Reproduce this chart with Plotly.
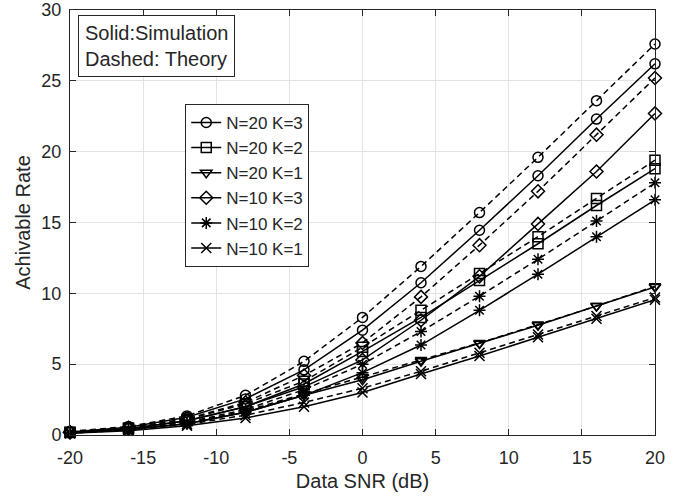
import plotly.graph_objects as go

snr = [-20, -16, -12, -8, -4, 0, 4, 8, 12, 16, 20]

names = ['N=20 K=3', 'N=20 K=2', 'N=20 K=1', 'N=10 K=3', 'N=10 K=2', 'N=10 K=1']
symbols = ['circle-open', 'square-open', 'triangle-down-open', 'diamond-open', 'asterisk-open', 'x-thin-open']

# simulation (solid)
sim_n20k3 = [0.22, 0.55, 1.25, 2.55, 4.6, 7.4, 10.75, 14.45, 18.3, 22.3, 26.2]
sim_n20k2 = [0.18, 0.45, 1.0, 2.0, 3.6, 5.9, 8.3, 10.9, 13.5, 16.2, 18.8]
sim_n20k1 = [0.15, 0.38, 0.8, 1.6, 2.8, 3.9, 5.2, 6.45, 7.75, 9.1, 10.45]
sim_n10k3 = [0.18, 0.45, 1.0, 2.0, 3.4, 5.3, 8.1, 11.2, 14.9, 18.6, 22.7]
sim_n10k2 = [0.15, 0.38, 0.8, 1.6, 2.8, 4.4, 6.35, 8.8, 11.35, 14.0, 16.6]
sim_n10k1 = [0.12, 0.3, 0.65, 1.2, 2.0, 3.0, 4.3, 5.57, 6.9, 8.2, 9.55]

# theory (dashed)
th_n20k3 = [0.25, 0.6, 1.35, 2.8, 5.2, 8.3, 11.9, 15.7, 19.6, 23.6, 27.6]
th_n20k2 = [0.2, 0.5, 1.1, 2.2, 3.8, 6.2, 8.8, 11.4, 14.0, 16.7, 19.4]
th_n20k1 = [0.15, 0.4, 0.85, 1.7, 2.9, 4.1, 5.3, 6.5, 7.8, 9.1, 10.5]
th_n10k3 = [0.2, 0.5, 1.15, 2.3, 4.2, 6.5, 9.75, 13.4, 17.2, 21.2, 25.2]
th_n10k2 = [0.17, 0.42, 0.9, 1.8, 3.2, 5.0, 7.3, 9.8, 12.4, 15.1, 17.8]
th_n10k1 = [0.13, 0.35, 0.75, 1.4, 2.3, 3.3, 4.5, 5.8, 7.1, 8.4, 9.7]

sim = [sim_n20k3, sim_n20k2, sim_n20k1, sim_n10k3, sim_n10k2, sim_n10k1]
theory = [th_n20k3, th_n20k2, th_n20k1, th_n10k3, th_n10k2, th_n10k1]

x_ticks = [-20, -15, -10, -5, 0, 5, 10, 15, 20]
y_ticks = [0, 5, 10, 15, 20, 25, 30]

fig = go.Figure()
for name, sym, ys in zip(names, symbols, sim):
    fig.add_trace(go.Scatter(
        x=snr, y=ys, name=name, mode='lines+markers',
        line=dict(color='black', width=1.5),
        marker=dict(symbol=sym, size=10, color='black', line=dict(width=1.5, color='black')),
        cliponaxis=False,
    ))
for name, sym, ys in zip(names, symbols, theory):
    fig.add_trace(go.Scatter(
        x=snr, y=ys, name=name, mode='lines+markers', showlegend=False,
        line=dict(color='black', width=1.5, dash='6px,4px'),
        marker=dict(symbol=sym, size=10, color='black', line=dict(width=1.5, color='black')),
        cliponaxis=False,
    ))

axis_style = dict(
    showline=True, linecolor='#262626', linewidth=1, mirror='ticks',
    ticks='inside', ticklen=6, tickcolor='#262626',
    showgrid=True, gridcolor='#e3e3e3', gridwidth=1, zeroline=False,
    tickfont=dict(size=18, color='#262626'), automargin=False,
)

fig.update_xaxes(
    range=[-20, 20], tickvals=x_ticks, ticktext=[str(v) for v in x_ticks],
    ticklabelstandoff=6,
    title=dict(text='Data SNR (dB)', font=dict(size=20, color='#262626'), standoff=7),
    **axis_style,
)
fig.update_yaxes(
    range=[0, 30], tickvals=y_ticks, ticktext=[str(v) for v in y_ticks],
    ticklabelstandoff=4,
    title=dict(text='Achivable Rate', font=dict(size=20, color='#262626'), standoff=5),
    **axis_style,
)

fig.add_annotation(
    xref='paper', yref='paper', x=0.0137, y=0.988, xanchor='left', yanchor='top',
    text='Solid:Simulation<br>Dashed: Theory', align='left', showarrow=False,
    font=dict(size=20, color='#262626'),
    bordercolor='#262626', borderwidth=1, borderpad=6, bgcolor='white',
)

fig.update_layout(
    width=684, height=502,
    margin=dict(l=70, r=29, t=10, b=67),
    plot_bgcolor='white', paper_bgcolor='white',
    font=dict(family='Liberation Sans, Arial, sans-serif', color='#262626'),
    legend=dict(
        x=0.197, y=0.779, xanchor='left', yanchor='top',
        bgcolor='white', bordercolor='#262626', borderwidth=1,
        font=dict(size=17, color='#262626'), tracegroupgap=0,
        itemwidth=30, entrywidth=100,
    ),
)

fig.write_html("out.html", config={'displayModeBar': False},
               post_script="document.body.style.margin='0';")
